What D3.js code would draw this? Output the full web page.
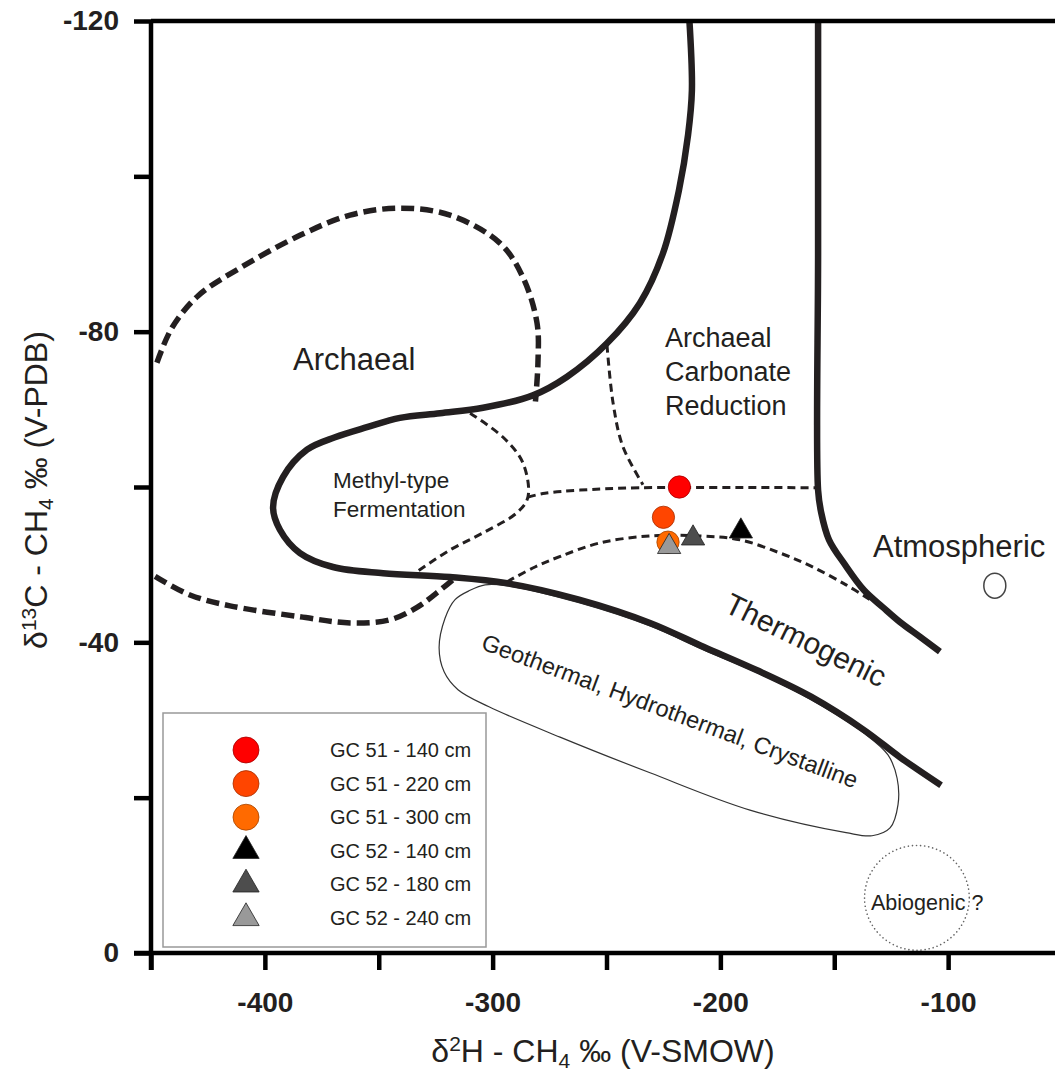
<!DOCTYPE html>
<html>
<head>
<meta charset="utf-8">
<script src="https://cdn.jsdelivr.net/npm/d3@7"></script>
<style>
  body { margin: 0; background: #fff; }
  text { font-family: "Liberation Sans", Arial, sans-serif; fill: #231f20; }
</style>
</head>
<body>
<div id="chart"></div>
<script>
var width = 1055
var height = 1076

// tick values
var xTicks = [-450, -400, -350, -300, -250, -200, -150, -100]
var xLabels = [-400, -300, -200, -100]
var yTicks = [-120, -100, -80, -60, -40, -20, 0]
var yLabels = [-120, -80, -40, 0]

// samples: dD (x) and d13C (y)
var sampleNames = ['GC 51 - 140 cm', 'GC 51 - 220 cm', 'GC 51 - 300 cm', 'GC 52 - 140 cm', 'GC 52 - 180 cm', 'GC 52 - 240 cm']
var sampleShapes = ['circle', 'circle', 'circle', 'triangle', 'triangle', 'triangle']
var sampleColors = ['#ff0000', '#ff4500', '#ff6a00', '#000000', '#4d4d4d', '#999999']
var sampleD2H = [-218, -225, -223, -191, -212, -222.5]
var sampleD13C = [-60.0, -56.1, -52.9, -54.3, -53.4, -52.3]

// atmospheric methane
var atmosphere = [-79.5, -47.3]
// abiogenic field (centre, radius in dD units)
var abiogenic = [-113.7, -7.1, 23]

// field boundaries [dD, d13C]
var mainBoundary = [[-213.8, -121], [-212.5, -111.1], [-214.2, -105.3], [-218.2, -98.2], [-225.2, -90.1],
  [-235.3, -83.7], [-249.8, -78.5], [-267.3, -74.2], [-282.3, -71.8], [-304.2, -70.2], [-323.1, -69.5],
  [-340.7, -68.9], [-355.2, -67.7], [-369.2, -66.4], [-381.5, -64.8], [-392.0, -61.3], [-396.4, -57.4],
  [-393.4, -54.5], [-384.6, -51.5], [-370.1, -49.7], [-348.1, -48.9], [-318.7, -48.4], [-293.7, -47.6],
  [-262.1, -45.5], [-230.9, -42.5], [-207.2, -39.4], [-183.9, -36.4], [-160.2, -33.0], [-136.9, -28.7],
  [-121.1, -25.2], [-103.1, -21.6]]
var atmosBoundary = [[-157.1, -121], [-157.1, -90], [-157.1, -59.6], [-155.8, -56.8], [-152.3, -53.2],
  [-145.3, -50.0], [-136.9, -46.7], [-128.6, -44.5], [-121.1, -42.6], [-112.3, -40.7], [-103.6, -38.8]]
var archaealUpper = [[-447.4, -76.0], [-440.8, -80.5], [-429.4, -84.6], [-410.9, -88.2], [-384.6, -92.4],
  [-362.6, -95.0], [-340.7, -95.9], [-318.7, -95.0], [-296.8, -91.4], [-286.7, -87.0], [-280.5, -81.1],
  [-280.1, -76.0], [-281.2, -71.0]]
var archaealLower = [[-448.2, -48.5], [-432.9, -46.1], [-415.3, -44.7], [-384.6, -43.3], [-362.6, -42.5],
  [-345.1, -42.9], [-333.2, -44.5], [-324.4, -46.4], [-316.5, -48.3]]
var methylBoundary = [[-309.9, -69.5], [-295.4, -66.4], [-286.7, -63.1], [-284.5, -58.7], [-289.3, -56.7],
  [-304.2, -54.1], [-318.7, -51.9], [-334.1, -48.9]]
var carbonateFloor = [[-284.5, -58.7], [-277.0, -59.2], [-261.6, -59.6], [-235.3, -59.9], [-157.1, -59.9]]
var carbonateLeft = [[-249.8, -78.3], [-247.1, -70.8], [-242.8, -65.2], [-234.0, -60.3]]
var thermoUpper = [[-293.7, -47.8], [-281.4, -49.7], [-270.0, -51.1], [-252.9, -52.8], [-230.9, -53.7],
  [-208.9, -53.7], [-191.4, -53.2], [-173.8, -51.5], [-160.2, -49.8], [-144.8, -47.4], [-134.3, -45.5]]
var geothermal = [[-309.9, -46.7], [-316.5, -45.5], [-320.9, -43.1], [-323.5, -39.3], [-321.3, -36.2],
  [-315.2, -33.9], [-301.6, -31.7], [-270.4, -27.8], [-230.9, -23.2], [-187.0, -18.4], [-144.8, -15.5],
  [-133.4, -15.1], [-125.5, -16.1], [-122.0, -19.1], [-122.4, -22.5], [-126.4, -25.5], [-136.9, -28.3],
  [-160.2, -32.6], [-183.9, -36.1], [-207.2, -39.0], [-230.9, -42.1], [-262.1, -45.1], [-293.7, -47.3],
  [-303.3, -47.4]]

var x = d3.scaleLinear().domain([-450, -50]).range([151, 1062])
var y = d3.scaleLinear().domain([-120, 0]).range([21, 953])

var svg = d3.select('#chart').append('svg')
  .attr('width', width)
  .attr('height', height)

svg.append('defs').append('clipPath').attr('id', 'plot')
  .append('rect').attr('x', 151).attr('y', 21).attr('width', width - 151).attr('height', 932)

var line = d3.line()
  .x(function(d){return x(d[0])})
  .y(function(d){return y(d[1])})
  .curve(d3.curveCatmullRom.alpha(0.5))

var fields = svg.append('g').attr('clip-path', 'url(#plot)')

fields.append('path')
  .attr('d', line.curve(d3.curveCatmullRomClosed.alpha(0.5))(geothermal))
  .attr('fill', 'none').attr('stroke', '#333').attr('stroke-width', 1.2)
line.curve(d3.curveCatmullRom.alpha(0.5))

var thinDashed = [methylBoundary, carbonateFloor, carbonateLeft, thermoUpper]
thinDashed.forEach(function(c){
  fields.append('path').attr('d', line(c))
    .attr('fill', 'none').attr('stroke', '#231f20').attr('stroke-width', 3)
    .attr('stroke-dasharray', '8,5')
})

var thickDashed = [archaealUpper, archaealLower]
thickDashed.forEach(function(c){
  fields.append('path').attr('d', line(c))
    .attr('fill', 'none').attr('stroke', '#231f20').attr('stroke-width', 5.5)
    .attr('stroke-dasharray', '13,6')
})

var solid = [mainBoundary, atmosBoundary]
solid.forEach(function(c){
  fields.append('path').attr('d', line(c))
    .attr('fill', 'none').attr('stroke', '#231f20').attr('stroke-width', 6.5)
    .attr('stroke-linejoin', 'round')
})

// abiogenic dotted circle
fields.append('circle')
  .attr('cx', x(abiogenic[0])).attr('cy', y(abiogenic[1]))
  .attr('r', x(abiogenic[0] + abiogenic[2]) - x(abiogenic[0]))
  .attr('fill', 'none').attr('stroke', '#666').attr('stroke-width', 1.6)
  .attr('stroke-dasharray', '0.1,4').attr('stroke-linecap', 'round')

// atmospheric point
fields.append('ellipse')
  .attr('cx', x(atmosphere[0])).attr('cy', y(atmosphere[1]))
  .attr('rx', 11).attr('ry', 12.5)
  .attr('fill', '#fff').attr('stroke', '#444').attr('stroke-width', 1.5)

// field labels
function label(txt, px, py, size, anchor, rot){
  var t = svg.append('text').attr('font-size', size).attr('text-anchor', anchor || 'start')
  if (rot) t.attr('transform', 'translate(' + px + ',' + py + ') rotate(' + rot + ')').attr('dy', '0.35em')
  else t.attr('x', px).attr('y', py)
  t.text(txt)
}
label('Archaeal', 293, 370, 31)
label('Methyl-type', 333, 488, 22.5)
label('Fermentation', 333, 517, 22.5)
label('Archaeal', 665, 347, 27)
label('Carbonate', 665, 381, 27)
label('Reduction', 665, 415, 27)
label('Atmospheric', 873, 557, 31)
label('Abiogenic ?', 871, 910, 21.5)
label('Thermogenic', 806, 640, 30, 'middle', 26)
label('Geothermal, Hydrothermal, Crystalline', 670, 711, 23.5, 'middle', 20.5)

// samples
var symbolArea = function(shape, big){
  if (shape == 'circle') return big ? 530 : 390
  return big ? 300 : 235
}
function drawMarker(g, i, px, py, big){
  var c = d3.color(sampleColors[i])
  var stroke = sampleShapes[i] == 'circle' ? c.darker(1.2) : d3.color('#222')
  g.append('path')
    .attr('transform', 'translate(' + px + ',' + py + ')')
    .attr('d', d3.symbol().type(sampleShapes[i] == 'circle' ? d3.symbolCircle : d3.symbolTriangle)
      .size(symbolArea(sampleShapes[i], big))())
    .attr('fill', sampleColors[i]).attr('stroke', stroke).attr('stroke-width', 0.8)
}
var pts = svg.append('g')
sampleNames.forEach(function(n, i){
  drawMarker(pts, i, x(sampleD2H[i]), y(sampleD13C[i]), false)
})

// legend
var legend = svg.append('g')
legend.append('rect').attr('x', 163).attr('y', 713).attr('width', 323).attr('height', 234)
  .attr('fill', '#fff').attr('stroke', '#999').attr('stroke-width', 1.5)
sampleNames.forEach(function(n, i){
  var ly = 750 + i * 33.6
  drawMarker(legend, i, 246, ly, true)
  legend.append('text').attr('x', 330).attr('y', ly + 7).attr('font-size', 20).text(n)
})

// axes
var xAxis = d3.axisBottom(x).tickValues(xTicks).tickSize(17).tickSizeOuter(0).tickPadding(22)
  .tickFormat(function(d){return xLabels.indexOf(d) >= 0 ? d : ''})
var yAxis = d3.axisLeft(y).tickValues(yTicks).tickSize(17).tickSizeOuter(0).tickPadding(15)
  .tickFormat(function(d){return yLabels.indexOf(d) >= 0 ? d : ''})

var gx = svg.append('g').attr('transform', 'translate(0,953)').call(xAxis)
var gy = svg.append('g').attr('transform', 'translate(151,0)').call(yAxis)
;[gx, gy].forEach(function(g){
  g.select('.domain').attr('stroke', '#000').attr('stroke-width', 4.5)
  g.selectAll('.tick line').attr('stroke', '#000').attr('stroke-width', 4.5)
  g.selectAll('.tick text').attr('font-size', 28).attr('font-weight', 'bold')
    .attr('fill', '#000').attr('font-family', '"Liberation Sans", Arial, sans-serif')
})
gx.select('.domain').attr('d', 'M134,0H' + width)
gy.select('.domain').attr('d', 'M0,20V970')

// top border
svg.append('line').attr('x1', 151).attr('x2', width).attr('y1', 21).attr('y2', 21)
  .attr('stroke', '#000').attr('stroke-width', 4.5)

// axis titles
var xt = svg.append('text').attr('x', 603).attr('y', 1062).attr('text-anchor', 'middle').attr('font-size', 32)
xt.append('tspan').text('δ')
xt.append('tspan').attr('font-size', 21).attr('dy', -11).text('2')
xt.append('tspan').attr('dy', 11).text('H - CH')
xt.append('tspan').attr('font-size', 21).attr('dy', 6).text('4')
xt.append('tspan').attr('dy', -6).text(' ‰ (V-SMOW)')

var yt = svg.append('text').attr('transform', 'translate(47,490) rotate(-90)').attr('text-anchor', 'middle').attr('font-size', 32)
yt.append('tspan').text('δ')
yt.append('tspan').attr('font-size', 21).attr('dy', -11).text('13')
yt.append('tspan').attr('dy', 11).text('C - CH')
yt.append('tspan').attr('font-size', 21).attr('dy', 6).text('4')
yt.append('tspan').attr('dy', -6).text(' ‰ (V-PDB)')
</script>
</body>
</html>
